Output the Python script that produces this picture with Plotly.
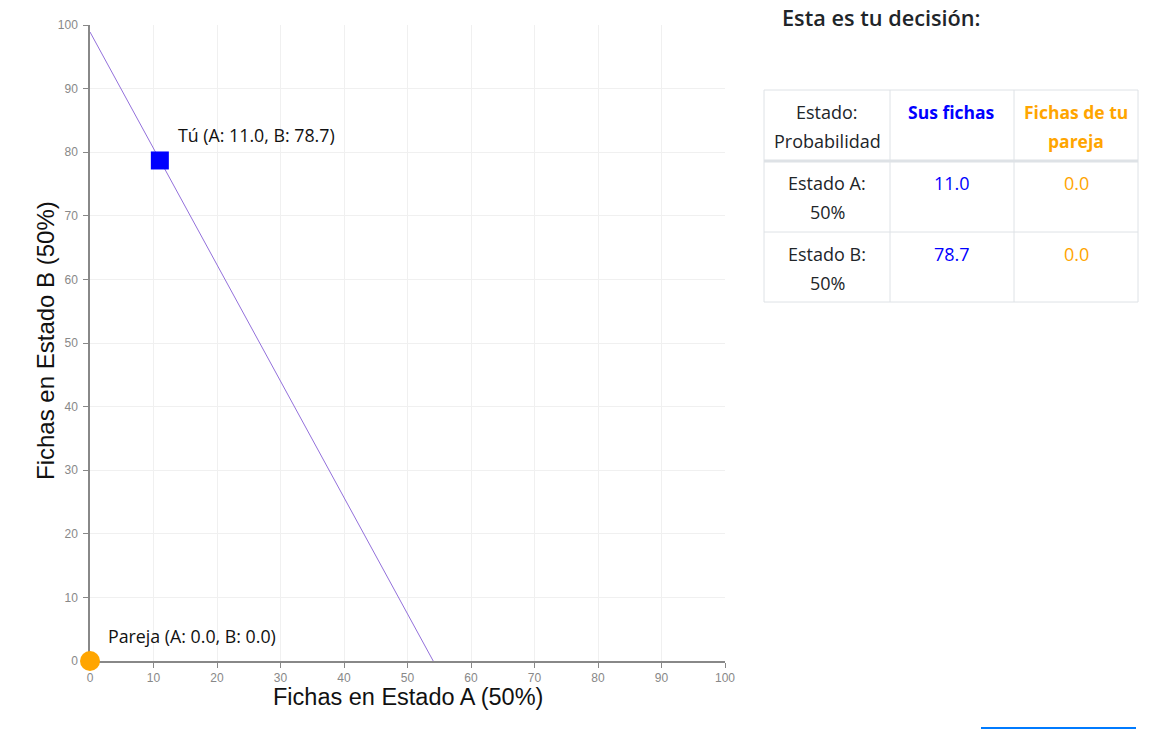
import plotly.graph_objects as go

# ---- data ----
line_x = [0, 54.05]
line_y = [98.9, 0]
you_point = (11.0, 78.7)
partner_point = (0.0, 0.0)
you_label = "Tú (A: 11.0, B: 78.7)"
partner_label = "Pareja (A: 0.0, B: 0.0)"
axis_ticks = [0, 10, 20, 30, 40, 50, 60, 70, 80, 90, 100]
x_title = "Fichas en Estado A (50%)"
y_title = "Fichas en Estado B (50%)"

table_title = "Esta es tu decisión:"
header = ["Estado:<br>Probabilidad", "<b>Sus fichas</b>", "<b>Fichas de tu<br>pareja</b>"]
row_labels = ["Estado A:<br>50%", "Estado B:<br>50%"]
your_tokens = ["11.0", "78.7"]
partner_tokens = ["0.0", "0.0"]

BLUE = "#0000ff"
ORANGE = "#FFA500"
DARK = "#212529"
BORDER = "#dee2e6"
FONT = "Open Sans, Noto Sans, sans-serif"
AFONT = "Liberation Sans, Arial"

# plot area in pixels
L, R, T, B = 90, 725, 25, 661
W, H = 1170, 729


def px(x):
    return (x - L) / (R - L)


def py(y):
    return (B - y) / (B - T)


fig = go.Figure()
fig.add_trace(go.Scatter(x=line_x, y=line_y, mode="lines",
                         line=dict(color="#9370DB", width=1), hoverinfo="skip",
                         showlegend=False))
fig.add_trace(go.Scatter(x=[you_point[0]], y=[you_point[1]], mode="markers",
                         marker=dict(symbol="square", size=18, color=BLUE),
                         cliponaxis=False, showlegend=False))
fig.add_trace(go.Scatter(x=[partner_point[0]], y=[partner_point[1]], mode="markers",
                         marker=dict(symbol="circle", size=20, color=ORANGE),
                         cliponaxis=False, showlegend=False))

annotations = []
for (pt, lab) in [(you_point, you_label), (partner_point, partner_label)]:
    annotations.append(dict(x=pt[0], y=pt[1], xref="x", yref="y", text=lab,
                            showarrow=False, xanchor="left", yanchor="middle",
                            xshift=16, yshift=25,
                            font=dict(family=FONT, size=17.8, color="#111")))

# axis titles
annotations.append(dict(x=0.5, y=py(697), xref="paper", yref="paper", text=x_title,
                        showarrow=False, xanchor="center", yanchor="middle",
                        font=dict(family=AFONT, size=23.5, color="#111")))
annotations.append(dict(x=px(45), y=py(341), xref="paper", yref="paper", text=y_title,
                        showarrow=False, xanchor="center", yanchor="middle", textangle=-90,
                        font=dict(family=AFONT, size=24, color="#111")))

# table drawn with shapes/annotations
col_edges = [764, 890, 1014, 1138]
row_edges = [90, 161, 232, 302]
col_centers = [(col_edges[i] + col_edges[i + 1]) / 2 for i in range(3)]
shapes = []
for xe in col_edges:
    shapes.append(dict(type="line", xref="paper", yref="paper",
                       x0=px(xe), x1=px(xe), y0=py(row_edges[0]), y1=py(row_edges[-1]),
                       line=dict(color=BORDER, width=1)))
for i, ye in enumerate(row_edges):
    shapes.append(dict(type="line", xref="paper", yref="paper",
                       x0=px(col_edges[0]), x1=px(col_edges[-1]), y0=py(ye), y1=py(ye),
                       line=dict(color=BORDER, width=3 if i == 1 else 1)))

line_gap = 29


def cell_text(text, cx, ytop, color, size):
    parts = text.split("<br>")
    bold = text.startswith("<b>")
    out = []
    for k, p in enumerate(parts):
        p = p.replace("<b>", "").replace("</b>", "")
        if bold:
            p = "<b>" + p + "</b>"
        out.append(dict(x=px(cx), y=py(ytop + k * line_gap), xref="paper", yref="paper",
                        text=p, showarrow=False, xanchor="center", yanchor="middle",
                        font=dict(family=FONT, size=size, color=color)))
    return out


header_colors = [DARK, BLUE, ORANGE]
for c in range(3):
    annotations += cell_text(header[c], col_centers[c], 112, header_colors[c], 18 if c == 0 else 17.5)
for r in range(2):
    ytop = 183 + r * 71
    annotations += cell_text(row_labels[r], col_centers[0], ytop, DARK, 18)
    annotations += cell_text(your_tokens[r], col_centers[1], ytop, BLUE, 18)
    annotations += cell_text(partner_tokens[r], col_centers[2], ytop, ORANGE, 18)

annotations.append(dict(x=px(780), y=py(17), xref="paper", yref="paper", text=table_title,
                        showarrow=False, xanchor="left", yanchor="middle",
                        font=dict(family=FONT, size=21.7, color=DARK, weight=600)))

# partially visible button edge at bottom right
shapes.append(dict(type="rect", xref="paper", yref="paper",
                   x0=px(981), x1=px(1136), y0=py(729), y1=py(727),
                   line=dict(width=0), fillcolor="#007bff"))

axis_common = dict(range=[0, 100], tickvals=axis_ticks, showgrid=True, gridcolor="#f0f0f0",
                   zeroline=False, showline=True, linecolor="#888", linewidth=1.5,
                   ticks="outside", ticklen=5, tickcolor="#888", layer="below traces",
                   tickfont=dict(family=AFONT, size=12, color="#888"))

fig.update_layout(
    width=W, height=H,
    margin=dict(l=L, r=W - R, t=T, b=H - B),
    plot_bgcolor="white", paper_bgcolor="white",
    xaxis=dict(**axis_common),
    yaxis=dict(**axis_common, ticklabelstandoff=3),
    shapes=shapes, annotations=annotations, showlegend=False,
)

fig.write_html("out.html")
